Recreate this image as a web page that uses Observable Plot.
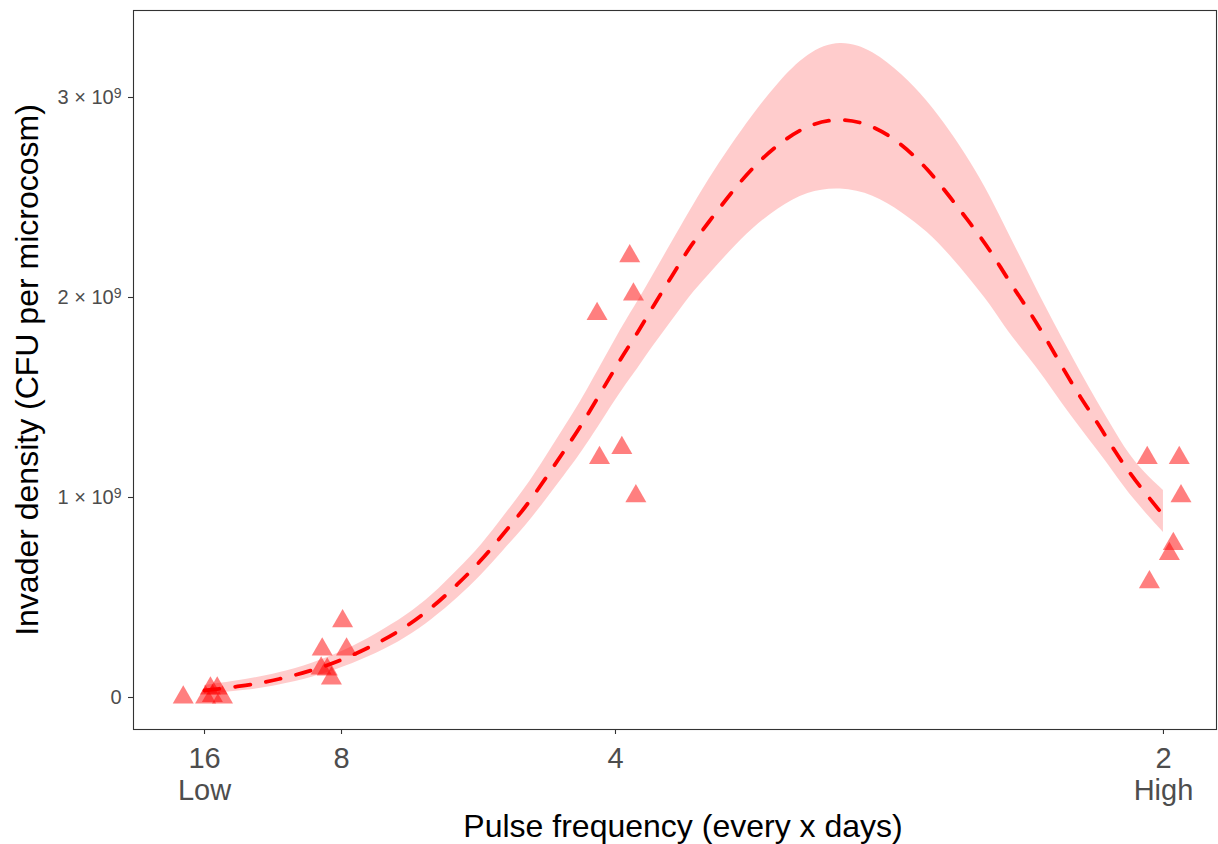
<!DOCTYPE html>
<html>
<head>
<meta charset="utf-8">
<script src="https://cdn.jsdelivr.net/npm/d3@7"></script>
<script src="https://cdn.jsdelivr.net/npm/@observablehq/plot@0.6"></script>
<style>
  html, body { margin: 0; padding: 0; background: #ffffff; }
  #chart svg { display: block; }
</style>
</head>
<body>
<div id="chart"></div>
<script>
// x: pulse frequency (1 / days between pulses); y: invader density in units of 1e9 CFU
const freqTicks = [1/16, 1/8, 1/4, 1/2];
const freqTickLabels = ["16\nLow", "8", "4", "2\nHigh"];
const densityTicks = [0, 1, 2, 3];
const densityTickLabels = ["0", "1", "2", "3"]; // mantissa, shown as "n × 10^9"

// observed microcosms (jittered frequency, density ×1e9)
const pointFreq = [
  0.0528, 0.0630, 0.0652, 0.0661, 0.0683, 0.0707,
  0.1157, 0.1162, 0.1185, 0.1204, 0.1255, 0.1273,
  0.2416, 0.2427, 0.2529, 0.2565, 0.2582, 0.2593,
  0.4926, 0.4936, 0.5027, 0.5045, 0.5072, 0.5080
];
const pointDensity = [
  0.000, 0.000, 0.045, 0.008, 0.045, 0.000,
  0.145, 0.240, 0.140, 0.095, 0.382, 0.240,
  1.918, 1.198, 1.248, 2.207, 2.015, 1.007,
  1.198, 0.577, 0.718, 0.768, 1.198, 1.007
];

// fitted curve with confidence band
const fitFreq = [
  0.0625, 0.0821, 0.0963, 0.1118, 0.1259, 0.1414, 0.1542, 0.1665, 0.1779, 0.1893,
  0.1989, 0.2089, 0.2181, 0.2267, 0.2354, 0.2523, 0.2600, 0.2673, 0.2760, 0.2833,
  0.2924, 0.3025, 0.3125, 0.3239, 0.3376, 0.3526, 0.3677, 0.3809, 0.3923, 0.4028,
  0.4119, 0.4211, 0.4293, 0.4380, 0.4462, 0.4539, 0.4621, 0.4699, 0.4781, 0.4863, 0.5000
];
const fitMean = [
  0.035, 0.060, 0.090, 0.135, 0.190, 0.270, 0.350, 0.450, 0.565, 0.690,
  0.820, 0.950, 1.095, 1.235, 1.375, 1.695, 1.820, 1.960, 2.110, 2.245,
  2.375, 2.520, 2.650, 2.765, 2.865, 2.900, 2.862, 2.765, 2.645, 2.500,
  2.370, 2.235, 2.085, 1.945, 1.800, 1.650, 1.500, 1.375, 1.225, 1.095, 0.910
];
const fitUpper = [
  0.060, 0.090, 0.120, 0.170, 0.230, 0.320, 0.405, 0.510, 0.635, 0.765,
  0.905, 1.045, 1.200, 1.350, 1.500, 1.840, 1.975, 2.115, 2.280, 2.420,
  2.590, 2.755, 2.910, 3.070, 3.225, 3.290, 3.235, 3.115, 2.985, 2.830,
  2.680, 2.505, 2.320, 2.135, 1.953, 1.795, 1.628, 1.477, 1.328, 1.178, 1.035
];
const fitLower = [
  0.015, 0.035, 0.060, 0.100, 0.150, 0.220, 0.295, 0.390, 0.495, 0.615,
  0.735, 0.855, 0.985, 1.110, 1.235, 1.530, 1.640, 1.760, 1.885, 2.000,
  2.110, 2.235, 2.345, 2.445, 2.530, 2.552, 2.515, 2.425, 2.330, 2.210,
  2.090, 1.965, 1.825, 1.710, 1.590, 1.467, 1.348, 1.236, 1.115, 0.990, 0.825
];

const xTitle = "Pulse frequency (every x days)";
const yTitle = "Invader density (CFU per microcosm)";

const points = pointFreq.map((f, i) => ({f, d: pointDensity[i]}));
const fit = fitFreq.map((f, i) => ({f, m: fitMean[i], lo: fitLower[i], hi: fitUpper[i]}));

const xLabel = d => {
  let best = 0;
  freqTicks.forEach((t, i) => { if (Math.abs(t - d) < Math.abs(freqTicks[best] - d)) best = i; });
  return freqTickLabels[best];
};
const yLabel = d => {
  const i = densityTicks.indexOf(d);
  return i >= 0 ? densityTickLabels[i] : String(d);
};

const chart = Plot.plot({
  width: 1218,
  height: 844,
  marginLeft: 133,
  marginRight: 2,
  marginTop: 10,
  marginBottom: 115,
  style: {fontFamily: "'Liberation Sans', Arial, sans-serif", background: "#ffffff", color: "#000"},
  x: {domain: [0.0301, 0.5242]},
  y: {domain: [-0.16, 3.435]},
  marks: [
    Plot.dot(points, {x: "f", y: "d", symbol: "triangle", r: 7.8, fill: "red", fillOpacity: 0.5}),
    Plot.areaY(fit, {x: "f", y1: "lo", y2: "hi", fill: "red", fillOpacity: 0.2, curve: "basis"}),
    Plot.lineY(fit, {x: "f", y: "m", stroke: "red", strokeWidth: 3.8, strokeDasharray: "15,16", curve: "basis"}),
    Plot.frame({stroke: "#333333", strokeWidth: 1.1}),
    Plot.axisX({ticks: freqTicks, tickFormat: xLabel, tickSize: 5, tickPadding: 11, fontSize: 29, lineHeight: 1.1,
                fill: "#4d4d4d", stroke: "#333333", strokeWidth: 1.1, label: null}),
    Plot.axisY({ticks: densityTicks, tickFormat: yLabel, tickSize: 5, tickPadding: 7, fontSize: 20,
                fill: "#4d4d4d", stroke: "#333333", strokeWidth: 1.1, label: null}),
    Plot.text([xTitle], {text: d => d, frameAnchor: "bottom", dx: 8, dy: 107, fontSize: 32, fill: "#000"}),
    Plot.text([yTitle], {text: d => d, frameAnchor: "left", textAnchor: "middle", dx: -106, rotate: -90, fontSize: 32, fill: "#000"})
  ]
});

document.getElementById("chart").appendChild(chart);

// render y tick labels as "n × 10^9" with a real superscript
d3.select(chart).selectAll('g[aria-label="y-axis tick label"] text').each(function() {
  const t = d3.select(this);
  const mant = t.text();
  if (mant === "0") return;
  t.text(null);
  t.append("tspan").text(mant + " \u00d7 10");
  t.append("tspan").attr("dy", "-0.42em").attr("font-size", "0.7em").text("9");
});
</script>
</body>
</html>
